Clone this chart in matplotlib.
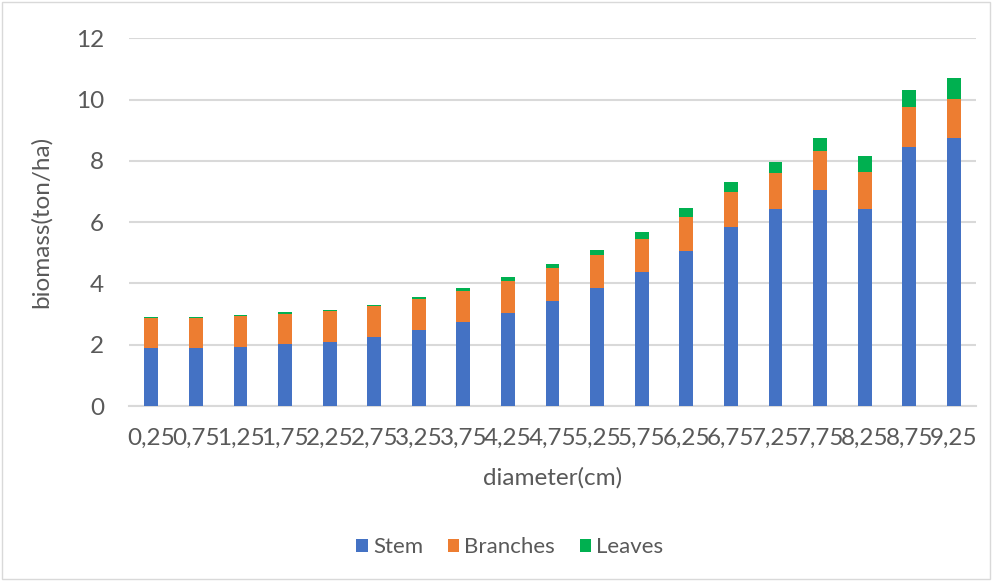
import matplotlib
matplotlib.use("Agg")
import matplotlib.pyplot as plt
import numpy as np
from matplotlib.patches import Rectangle

plt.rcParams['font.family'] = ['Lato', 'DejaVu Sans']

# diameter classes (cm) and biomass per compartment (ton/ha)
diameters = ["0,25", "0,75", "1,25", "1,75", "2,25", "2,75", "3,25", "3,75", "4,25", "4,75",
             "5,25", "5,75", "6,25", "6,75", "7,25", "7,75", "8,25", "8,75", "9,25"]
stem     = [1.88, 1.88, 1.93, 2.01, 2.10, 2.26, 2.47, 2.75, 3.05, 3.43,
            3.84, 4.38, 5.06, 5.84, 6.43, 7.06, 6.43, 8.44, 8.74]
branches = [1.00, 1.00, 1.00, 1.00, 1.00, 0.99, 1.03, 1.00, 1.03, 1.07,
            1.09, 1.08, 1.11, 1.13, 1.17, 1.25, 1.22, 1.30, 1.28]
leaves   = [0.04, 0.04, 0.05, 0.05, 0.04, 0.05, 0.06, 0.09, 0.13, 0.13,
            0.16, 0.22, 0.30, 0.33, 0.37, 0.43, 0.50, 0.57, 0.68]

TXT = "#595959"
GRID = "#d9d9d9"

fig = plt.figure(figsize=(9.92, 5.81), dpi=100)
ax = fig.add_axes([0.130, 0.3012, 0.854, 0.633])

x = np.arange(len(diameters))
w = 0.31
stem_a = np.array(stem)
br_a = np.array(branches)
ax.bar(x, stem, w, color="#4472C4", label="Stem", zorder=3)
ax.bar(x, branches, w, bottom=stem_a, color="#ED7D31", label="Branches", zorder=3)
ax.bar(x, leaves, w, bottom=stem_a + br_a, color="#00B050", label="Leaves", zorder=3)

ax.set_xlim(-0.5, len(diameters) - 0.5)
ax.set_ylim(0, 12)
ax.set_yticks(range(0, 13, 2))
ax.set_xticks(x)
ax.set_xticklabels(diameters)
ax.grid(axis='y', color=GRID, linewidth=1.5, zorder=0)
ax.tick_params(axis='both', length=0, labelsize=17.5, colors=TXT)
ax.tick_params(axis='x', pad=16)
ax.tick_params(axis='y', pad=18)
for s in ['top', 'right', 'left']:
    ax.spines[s].set_visible(False)
ax.spines['bottom'].set_color(GRID)
ax.spines['bottom'].set_linewidth(1.5)

ax.set_ylabel("biomass(ton/ha)", fontsize=17.5, color=TXT, labelpad=17)
ax.set_xlabel("diameter(cm)", fontsize=17.5, color=TXT, labelpad=13)

leg = fig.legend(loc='center', bbox_to_anchor=(0.514, 0.058), ncol=3, frameon=False,
                 fontsize=16, handlelength=0.5, handleheight=0.5, handletextpad=0.25,
                 columnspacing=1.1)
for t in leg.get_texts():
    t.set_color(TXT)

# chart-area border
fig.patches.append(Rectangle((0.002, 0.003), 0.996, 0.994, transform=fig.transFigure,
                             fill=False, edgecolor=GRID, linewidth=1.0))

fig.savefig("out.png", dpi=100, facecolor="white")
